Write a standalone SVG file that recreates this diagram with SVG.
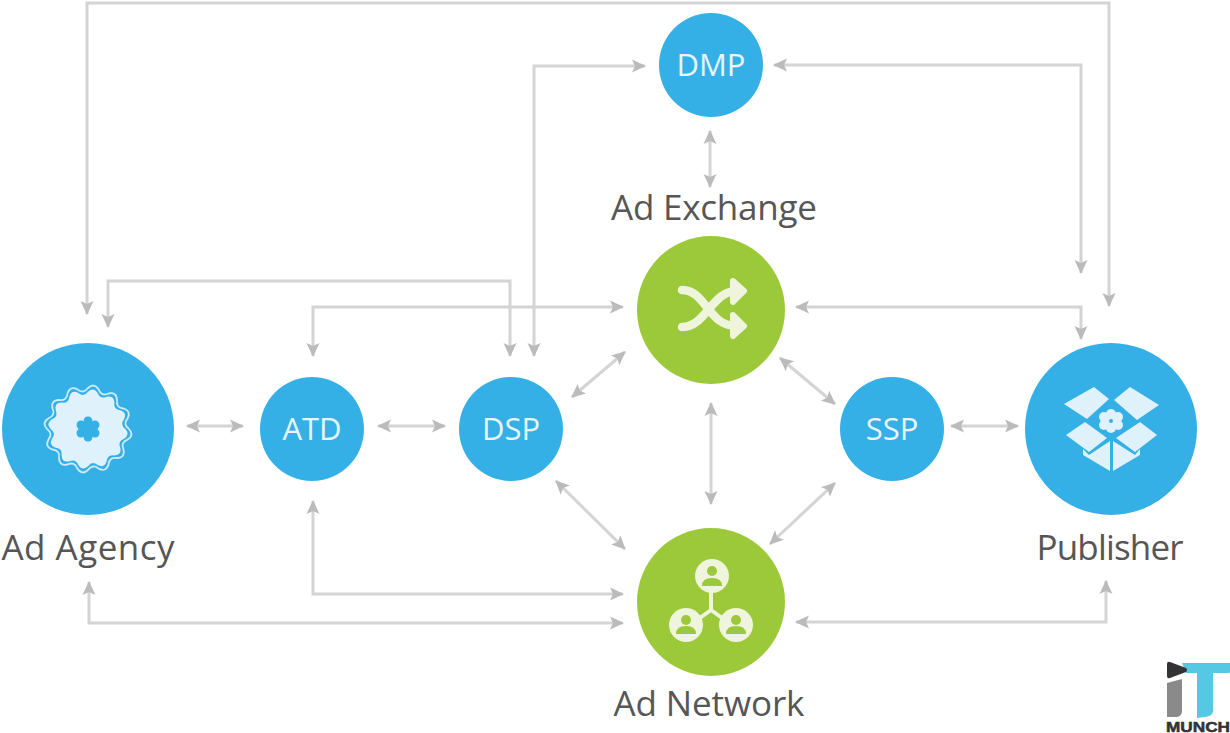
<svg xmlns="http://www.w3.org/2000/svg" width="1230" height="733" viewBox="0 0 1230 733">
<style>
.c{fill:none;stroke:#d4d4d4;stroke-width:3;marker-start:url(#a);marker-end:url(#a)}
.b{fill:#35b0e6}.g{fill:#9bc93a}
.t{font-family:"Open Sans","Noto Sans",sans-serif;fill:#565656;font-size:35px;text-anchor:middle}
.w{font-family:"Open Sans","Noto Sans",sans-serif;fill:#e8f5fc;font-size:31px;text-anchor:middle}
.ib{fill:#dff1fb}.ig{fill:#eef5dc}
</style>
<defs><marker id="a" markerUnits="userSpaceOnUse" markerWidth="18" markerHeight="18" refX="15" refY="9" orient="auto-start-reverse"><path d="M2 2.500L16 9L2 15.500L5 9Z" fill="#bbb"/></marker>
<path id="w" d="M41 0Q46.600 6.200 39.600 10.600Q32.300 13.400 35.500 20.500Q37.300 28.600 29 29Q21.300 27.800 20.500 35.500Q18 43.400 10.600 39.600Q4.600 34.700 0 41Q-6.200 46.600 -10.600 39.600Q-13.400 32.300 -20.500 35.500Q-28.600 37.300 -29 29Q-27.800 21.300 -35.500 20.500Q-43.400 18 -39.600 10.600Q-34.700 4.600 -41 0Q-46.600 -6.200 -39.600 -10.600Q-32.300 -13.400 -35.500 -20.500Q-37.300 -28.600 -29 -29Q-21.300 -27.800 -20.500 -35.500Q-18 -43.400 -10.600 -39.600Q-4.600 -34.700 0 -41Q6.200 -46.600 10.600 -39.600Q13.400 -32.300 20.500 -35.500Q28.600 -37.300 29 -29Q27.800 -21.300 35.500 -20.500Q43.400 -18 39.600 -10.600Q34.700 -4.600 41 0Z"/></defs>
<rect width="1230" height="733" fill="#fff"/>
<g id="connectors">
<path class="c" d="M87 314V3H1109V306"/>
<path class="c" d="M108 327V281H510V356"/>
<path class="c" d="M313 356V307H623"/>
<path class="c" d="M534 356V66H645"/>
<path class="c" d="M774 65H1081V273"/>
<path class="c" d="M796 307H1081V339"/>
<path class="c" d="M710 131V187"/>
<path class="c" d="M313 501V594H623"/>
<path class="c" d="M89 582V623H623"/>
<path class="c" d="M796 622H1106V581"/>
<path class="c" d="M187 426H243"/>
<path class="c" d="M378 426H445"/>
<path class="c" d="M951 426H1018"/>
<path class="c" d="M711 403V504"/>
<path class="c" d="M572 397L625 352"/>
<path class="c" d="M556 481L625 549"/>
<path class="c" d="M780 358L835 404"/>
<path class="c" d="M770 544L835 483"/>
</g>
<g id="dmp"><circle class="b" cx="711" cy="65" r="52"/><text class="w" x="711" y="76">DMP</text></g>
<g id="atd"><circle class="b" cx="312" cy="429" r="52"/><text class="w" x="312" y="440">ATD</text></g>
<g id="dsp"><circle class="b" cx="511" cy="429" r="52"/><text class="w" x="511" y="440">DSP</text></g>
<g id="ssp"><circle class="b" cx="892" cy="429" r="52"/><text class="w" x="892" y="440">SSP</text></g>
<g id="agency"><circle class="b" cx="88" cy="429" r="86"/>
<use href="#w" transform="translate(88 429)" fill="none" stroke="#cdeaf8" stroke-width="1.800"/>
<use href="#w" transform="translate(88 429) scale(.91)" fill="#dff1fb"/>
<circle cx="88" cy="429" r="6" class="b"/><circle cx="88" cy="421" r="4.500" class="b"/><circle cx="88" cy="437" r="4.500" class="b"/><circle cx="81" cy="425" r="4.500" class="b"/><circle cx="95" cy="425" r="4.500" class="b"/><circle cx="81" cy="433" r="4.500" class="b"/><circle cx="95" cy="433" r="4.500" class="b"/>
<text class="t" x="88" y="560" textLength="173" lengthAdjust="spacing">Ad Agency</text></g>
<g id="publisher"><circle class="b" cx="1111" cy="429" r="86"/>
<path class="ib" d="M1094 387L1109 399L1087 419L1064 404ZM1130 387L1159 405L1137 420L1114 400ZM1085 422L1107 438L1089 452L1066 435ZM1140 422L1157 435L1135 452L1116 438ZM1083 449L1089 455L1110 441V471L1083 455ZM1140 449L1135 455L1113 441V471L1140 455Z"/>
<g class="ib"><circle cx="1111" cy="421" r="6"/><circle cx="1111" cy="414" r="5"/><circle cx="1111" cy="428" r="5"/><circle cx="1104" cy="417" r="5"/><circle cx="1118" cy="417" r="5"/><circle cx="1104" cy="425" r="5"/><circle cx="1118" cy="425" r="5"/></g>
<circle cx="1111" cy="421" r="2" class="b"/>
<text class="t" x="1110" y="560" textLength="147" lengthAdjust="spacing">Publisher</text></g>
<g id="exchange"><circle class="g" cx="711" cy="310" r="74"/>
<path d="M682 290C706 290 708 326 736 326M682 327C706 327 712 291 736 291" fill="none" stroke="#eef5dc" stroke-width="8.500" stroke-linecap="round"/>
<path class="ig" d="M733 281L744 291L733 302ZM733 315L744 326L733 336Z" stroke="#eef5dc" stroke-width="6" stroke-linejoin="round"/>
<text class="t" x="714" y="220" textLength="206" lengthAdjust="spacing">Ad Exchange</text></g>
<g id="network"><circle class="g" cx="711" cy="602" r="74"/>
<path d="M711 590V610M711 610L686 628M711 610L736 628" stroke="#eef5dc" stroke-width="4" fill="none"/>
<circle class="ig" cx="712" cy="576" r="17"/><circle class="ig" cx="686" cy="625" r="17"/><circle class="ig" cx="736" cy="625" r="17"/>
<g class="g"><circle cx="712" cy="571" r="5"/><path d="M702 586q0-8 10-8t10 8z"/><circle cx="686" cy="620" r="5"/><path d="M676 634q0-8 10-8t10 8z"/><circle cx="736" cy="620" r="5"/><path d="M726 634q0-8 10-8t10 8z"/></g>
<text class="t" x="709" y="716" textLength="191" lengthAdjust="spacing">Ad Network</text></g>
<g id="logo">
<path d="M1182 663H1230V672Q1230 673 1228 673H1213V711Q1213 716 1205 717L1197 718V673H1186Z" fill="#55c8e4"/>
<path d="M1167 664Q1167 661 1170 662L1186 668Q1188 670 1186 672L1170 678Q1167 679 1167 676Z" fill="#333"/>
<path d="M1167 683L1182 679V711Q1182 716 1177 717H1167Z" fill="#8a8a8a"/>
<text x="1166" y="732" font-family="Liberation Sans,sans-serif" font-weight="700" font-size="14" textLength="64" lengthAdjust="spacingAndGlyphs" fill="#333" stroke="#333" stroke-width=".5">MUNCH</text>
</g>
</svg>
